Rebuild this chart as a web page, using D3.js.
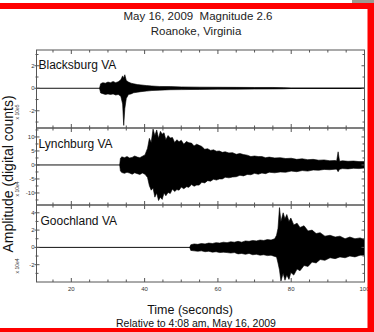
<!DOCTYPE html>
<html><head><meta charset="utf-8">
<script src="https://cdn.jsdelivr.net/npm/d3@7"></script>
<style>body{margin:0;background:#fff}svg{display:block;font-family:"Liberation Sans",Arial,sans-serif}text{white-space:pre}</style>
</head><body><div id="chart"></div>
<script>
// ---------- data ----------
const titleLines = ["May 16, 2009  Magnitude 2.6", "Roanoke, Virginia"];
const xTitle = "Time (seconds)";
const xSubtitle = "Relative to 4:08 am, May 16, 2009";
const yTitle = "Amplitude (digital counts)";
const timeDomain = [10.5, 100];
const xTickLabels = [20, 40, 60, 80, 100];
const stations = ["Blacksburg VA", "Lynchburg VA", "Goochland VA"];
const scaleLabels = ["x 10e5", "x 10e4", "x 10e4"];
const yDomains = [[-3.53, 3.4], [-14.3, 13.2], [-4.0, 4.9]];
const yTickLabels = [[2, 0, -2], [10, 5, 0, -5, -10], [4, 2, 0, -2]];
const yMinorTicks = [[-3, -2, -1, 0, 1, 2, 3], [-12.5, -10, -7.5, -5, -2.5, 0, 2.5, 5, 7.5, 10, 12.5], [-4, -3, -2, -1, 0, 1, 2, 3, 4]];

// envelope of each trace: time (s), upper and lower amplitude
const blacksburgT  = [27.7, 28.0, 28.6, 29.3, 30.0, 30.7, 31.4, 32.1, 32.8, 33.5, 34.0, 34.3, 34.6, 35.0, 35.6, 36.3, 37.0, 38.0, 39.0, 40.5, 42, 44, 47, 50, 55, 60, 65, 70, 75, 78, 80, 100];
const blacksburgHi = [0, 0.4, 0.5, 0.45, 0.55, 0.5, 0.6, 0.5, 0.58, 0.75, 1.1, 0.9, 1.2, 0.7, 0.55, 0.45, 0.4, 0.33, 0.3, 0.24, 0.2, 0.16, 0.15, 0.12, 0.1, 0.09, 0.08, 0.07, 0.07, 0.05, 0.02, 0.02];
const blacksburgLo = [0, -0.42, -0.48, -0.55, -0.5, -0.55, -0.5, -0.6, -0.55, -0.7, -1.4, -3.3, -1.8, -0.9, -0.55, -0.5, -0.4, -0.35, -0.3, -0.25, -0.2, -0.17, -0.13, -0.12, -0.1, -0.08, -0.08, -0.07, -0.06, -0.05, -0.02, -0.02];

const lynchburgT  = [33.2, 33.4, 33.8, 34.5, 35.2, 35.9, 36.6, 37.3, 38.0, 38.7, 39.4, 40.1, 40.8, 41.3, 41.8, 42.3, 42.8, 43.3, 43.8, 44.3, 44.8, 45.3, 45.8, 46.4, 47.0, 47.6, 48.2, 48.8, 49.4, 50.0, 50.7, 51.4, 52.1, 52.8, 53.5, 54.2, 54.9, 55.6, 56.4, 57.2, 58.0, 58.8, 59.6, 60.4, 61.2, 62.0, 63.0, 64.0, 65.0, 66.0, 67.0, 68.0, 69.0, 70.0, 71.0, 72.0, 73.0, 74.0, 75.5, 77.0, 78.5, 80.0, 81.5, 83.0, 84.5, 86.0, 87.5, 89.0, 90.5, 92.0, 92.4, 92.8, 93.2, 94.0, 95.5, 97.0, 98.5, 100];
const lynchburgHi = [0, 2.4, 2.9, 2.6, 3.0, 2.5, 2.7, 3.2, 2.8, 2.6, 3.1, 3.6, 6.0, 9.5, 8.0, 12.8, 10.5, 12.5, 9.5, 12.0, 11.0, 11.5, 9.0, 10.5, 9.6, 9.8, 8.0, 9.0, 8.3, 8.8, 7.4, 8.4, 7.9, 7.8, 6.8, 7.4, 7.0, 6.6, 5.6, 5.8, 5.2, 5.4, 4.9, 5.0, 4.5, 4.7, 4.3, 4.4, 3.8, 4.1, 3.7, 3.5, 3.0, 3.2, 3.0, 3.0, 2.6, 2.8, 2.5, 2.6, 2.3, 2.4, 2.0, 2.2, 1.9, 2.0, 1.7, 1.8, 1.5, 1.6, 1.4, 4.7, 1.3, 1.5, 1.3, 1.4, 1.2, 1.2];
const lynchburgLo = [0, -2.2, -2.7, -3.0, -2.6, -2.9, -3.3, -2.8, -3.1, -3.4, -2.9, -3.3, -4.5, -7.4, -9.0, -8.2, -11.5, -10.0, -12.7, -11.5, -12.3, -10.0, -11.0, -9.8, -10.2, -8.6, -9.5, -8.8, -9.0, -7.9, -8.5, -7.8, -8.0, -7.0, -7.6, -7.2, -7.2, -6.2, -6.4, -5.6, -5.8, -5.1, -5.4, -5.0, -5.0, -4.4, -4.6, -4.3, -4.2, -3.7, -3.9, -3.4, -3.5, -3.0, -3.3, -2.9, -3.1, -2.6, -2.8, -2.5, -2.6, -2.2, -2.4, -2.0, -2.2, -1.8, -1.9, -1.6, -1.7, -1.5, -1.5, -2.4, -1.5, -1.3, -1.4, -1.2, -1.3, -1.1];

const goochlandT  = [52.3, 52.6, 53.5, 54.5, 55.5, 56.5, 57.5, 58.5, 59.5, 60.5, 61.5, 62.5, 63.5, 64.5, 65.5, 66.5, 67.5, 68.5, 69.5, 70.5, 71.5, 72.5, 73.5, 74.5, 75.5, 76.0, 76.4, 76.8, 77.2, 77.8, 78.3, 78.8, 79.4, 79.9, 80.7, 81.6, 82.4, 83.5, 84.6, 85.7, 86.8, 87.9, 89.2, 90.6, 92.0, 93.3, 94.7, 96.0, 97.4, 98.8, 100];
const goochlandHi = [0, 0.3, 0.4, 0.35, 0.45, 0.4, 0.5, 0.45, 0.55, 0.5, 0.6, 0.55, 0.65, 0.6, 0.7, 0.6, 0.75, 0.7, 0.8, 0.75, 0.85, 0.8, 0.9, 0.85, 1.0, 1.4, 2.2, 4.6, 3.0, 4.0, 3.3, 3.8, 3.0, 3.4, 2.6, 2.8, 2.3, 2.5, 1.9, 2.0, 1.6, 1.7, 1.3, 1.4, 1.2, 1.3, 1.0, 1.2, 1.0, 1.1, 0.9];
const goochlandLo = [0, -0.35, -0.4, -0.45, -0.4, -0.5, -0.45, -0.55, -0.5, -0.6, -0.55, -0.6, -0.65, -0.6, -0.75, -0.7, -0.8, -0.7, -0.85, -0.8, -0.9, -0.85, -0.95, -0.9, -1.05, -1.1, -1.8, -2.6, -3.9, -3.0, -3.8, -3.2, -3.7, -2.9, -3.2, -2.5, -2.7, -2.1, -2.2, -1.7, -1.8, -1.4, -1.5, -1.2, -1.3, -1.1, -1.2, -1.0, -1.1, -0.9, -0.9];

const traces = [
  {t: blacksburgT, hi: blacksburgHi, lo: blacksburgLo},
  {t: lynchburgT, hi: lynchburgHi, lo: lynchburgLo},
  {t: goochlandT, hi: goochlandHi, lo: goochlandLo}
];

// ---------- layout ----------
const W = 374, H = 332;
const left = 36.5, right = 364.5;
const panelTops = [50, 128, 205], panelBottom = 282;

const svg = d3.select("#chart").append("svg").attr("width", W).attr("height", H);
svg.append("rect").attr("width", W).attr("height", H).attr("fill", "#fff");

const x = d3.scaleLinear().domain(timeDomain).range([left, right]);
const axisColor = "#555";
const minorX = d3.range(15, 101, 5);

stations.forEach((name, i) => {
  const top = panelTops[i];
  const bottom = i < 2 ? panelTops[i + 1] : panelBottom;
  const y = d3.scaleLinear().domain(yDomains[i]).range([bottom, top]);
  const g = svg.append("g");
  const tr = traces[i];
  const pts = tr.t.map((t, k) => ({t, hi: tr.hi[k], lo: tr.lo[k]}));

  // baseline trace
  g.append("line").attr("x1", x(timeDomain[0])).attr("x2", x(timeDomain[1]))
    .attr("y1", y(0)).attr("y2", y(0)).attr("stroke", "#111").attr("stroke-width", 1);
  // envelope
  const area = d3.area().x(d => x(d.t)).y0(d => y(d.lo)).y1(d => y(d.hi)).curve(d3.curveLinear);
  g.append("path").datum(pts).attr("d", area).attr("fill", "#000")
    .attr("stroke", "#000").attr("stroke-width", 0.6).attr("stroke-linejoin", "miter");

  // frame
  g.append("rect").attr("x", left).attr("y", top).attr("width", right - left).attr("height", bottom - top)
    .attr("fill", "none").attr("stroke", axisColor).attr("stroke-width", 1);

  // x ticks (top inward, bottom inward)
  minorX.forEach(v => {
    const len = v % 20 === 0 ? 4 : 2.5;
    g.append("line").attr("x1", x(v)).attr("x2", x(v)).attr("y1", top).attr("y2", top + len)
      .attr("stroke", axisColor).attr("stroke-width", 1);
    g.append("line").attr("x1", x(v)).attr("x2", x(v)).attr("y1", bottom).attr("y2", bottom - len)
      .attr("stroke", axisColor).attr("stroke-width", 1);
  });

  // y ticks
  yMinorTicks[i].forEach(v => {
    const yy = y(v);
    if (yy < top + 1 || yy > bottom - 1) return;
    const major = yTickLabels[i].includes(v);
    g.append("line").attr("x1", left - (major ? 2 : 1)).attr("x2", left + (major ? 3 : 2)).attr("y1", yy).attr("y2", yy)
      .attr("stroke", axisColor).attr("stroke-width", 1);
    g.append("line").attr("x1", right).attr("x2", right - (major ? 3 : 2)).attr("y1", yy).attr("y2", yy)
      .attr("stroke", axisColor).attr("stroke-width", 1);
  });
  yTickLabels[i].forEach(v => {
    g.append("text").attr("x", left - 2).attr("y", y(v) + 2).attr("text-anchor", "end")
      .attr("font-size", 6).attr("fill", "#333").text(v);
  });

  // scale label
  g.append("text").attr("transform", `translate(${19},${bottom - 16}) rotate(-90)`)
    .attr("text-anchor", "middle").attr("font-size", 5).attr("fill", "#333").text(scaleLabels[i]);

  // station name
  g.append("text").attr("x", left + 2 + (i === 2 ? 2 : 0)).attr("y", top + (i === 0 ? 19 : 20))
    .attr("font-size", 12).attr("fill", "#111").text(name);
});

// x tick labels
xTickLabels.forEach(v => {
  svg.append("text").attr("x", x(v)).attr("y", panelBottom + 9).attr("text-anchor", "middle")
    .attr("font-size", 6).attr("fill", "#333").text(v);
});

// titles
svg.append("text").attr("x", 198).attr("y", 20).attr("text-anchor", "middle")
  .attr("font-size", 11.5).attr("fill", "#222").text(titleLines[0]);
svg.append("text").attr("x", 196).attr("y", 35).attr("text-anchor", "middle")
  .attr("font-size", 11.5).attr("fill", "#222").text(titleLines[1]);
svg.append("text").attr("x", 190).attr("y", 313.5).attr("text-anchor", "middle")
  .attr("font-size", 12.5).attr("fill", "#111").text(xTitle);
svg.append("text").attr("x", 196).attr("y", 326.5).attr("text-anchor", "middle")
  .attr("font-size", 10.5).attr("fill", "#111").text(xSubtitle);
svg.append("text").attr("transform", "translate(13,174) rotate(-90)").attr("text-anchor", "middle")
  .attr("font-size", 14).attr("fill", "#111").text(yTitle);

// red frame
svg.append("rect").attr("x", 0).attr("y", 3).attr("width", W).attr("height", 6).attr("fill", "#f00");
svg.append("rect").attr("x", 367.5).attr("y", 3).attr("width", 6.5).attr("height", H - 3).attr("fill", "#f00");
svg.append("rect").attr("x", 0).attr("y", 328).attr("width", W).attr("height", 4).attr("fill", "#f00");
svg.append("rect").attr("x", 352).attr("y", 0).attr("width", 22).attr("height", 3).attr("fill", "#9a9a90");
</script></body></html>
